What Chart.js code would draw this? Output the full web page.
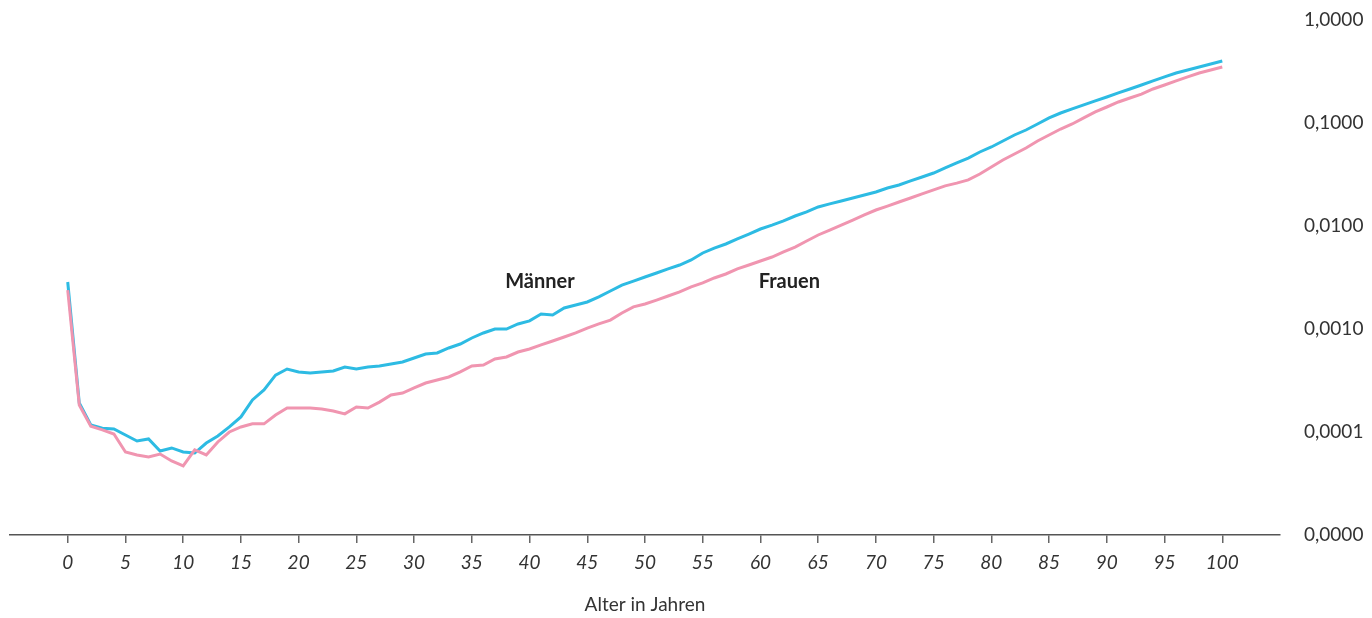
<!DOCTYPE html>
<html>
<head>
<meta charset="utf-8">
<script src="https://cdn.jsdelivr.net/npm/chart.js@4"></script>
<style>
  body { margin: 0; background: #fff; }
  #wrap { width: 1372px; height: 618px; position: relative; }
</style>
</head>
<body>
<div id="wrap"><canvas id="chart"></canvas></div>
<script>
// Alter 0..100
const ages = Array.from({ length: 101 }, (_, i) => i);

// Sterbewahrscheinlichkeit Männer
const maenner = [
  0.00286, 0.000191, 0.000117, 0.000109, 0.000107, 0.0000935, 0.0000818, 0.0000856, 0.0000654, 0.0000700,
  0.0000640, 0.0000625, 0.0000782, 0.0000914, 0.000112, 0.000140, 0.000205, 0.000256, 0.000357, 0.000409,
  0.000383, 0.000374, 0.000383, 0.000391, 0.000428, 0.000409, 0.000428, 0.000437, 0.000457, 0.000478,
  0.000523, 0.000572, 0.000585, 0.000654, 0.000715, 0.000818, 0.000915, 0.00100, 0.00100, 0.00112,
  0.00120, 0.00140, 0.00137, 0.00160, 0.00171, 0.00183, 0.00205, 0.00234, 0.00267, 0.00292,
  0.00320, 0.00350, 0.00383, 0.00418, 0.00468, 0.00547, 0.00611, 0.00669, 0.00748, 0.00836,
  0.00935, 0.0102, 0.0112, 0.0125, 0.0137, 0.0153, 0.0164, 0.0175, 0.0187, 0.0200,
  0.0214, 0.0234, 0.0250, 0.0274, 0.0299, 0.0327, 0.0366, 0.0409, 0.0457, 0.0523,
  0.0585, 0.0669, 0.0765, 0.0855, 0.0978, 0.112, 0.125, 0.137, 0.150, 0.164,
  0.179, 0.196, 0.214, 0.234, 0.256, 0.280, 0.306, 0.327, 0.350, 0.374,
  0.400
];

// Sterbewahrscheinlichkeit Frauen
const frauen = [
  0.00239, 0.000183, 0.000114, 0.000105, 0.0000957, 0.0000640, 0.0000598, 0.0000572, 0.0000611, 0.0000523,
  0.0000468, 0.0000669, 0.0000598, 0.0000800, 0.000100, 0.000112, 0.000120, 0.000120, 0.000146, 0.000171,
  0.000171, 0.000171, 0.000167, 0.000160, 0.000150, 0.000175, 0.000171, 0.000195, 0.000229, 0.000239,
  0.000268, 0.000299, 0.000320, 0.000342, 0.000383, 0.000437, 0.000447, 0.000512, 0.000535, 0.000598,
  0.000640, 0.000700, 0.000765, 0.000836, 0.000915, 0.00102, 0.00112, 0.00122, 0.00143, 0.00164,
  0.00175, 0.00191, 0.00209, 0.00229, 0.00256, 0.00280, 0.00313, 0.00342, 0.00383, 0.00418,
  0.00457, 0.00500, 0.00560, 0.00625, 0.00715, 0.00818, 0.00914, 0.0102, 0.0114, 0.0128,
  0.0143, 0.0156, 0.0171, 0.0187, 0.0205, 0.0224, 0.0245, 0.0261, 0.0280, 0.0320,
  0.0374, 0.0437, 0.0500, 0.0572, 0.0669, 0.0765, 0.0874, 0.0978, 0.112, 0.128,
  0.143, 0.160, 0.175, 0.191, 0.214, 0.234, 0.256, 0.280, 0.306, 0.327,
  0.350
];

const xTicks = [0, 5, 10, 15, 20, 25, 30, 35, 40, 45, 50, 55, 60, 65, 70, 75, 80, 85, 90, 95, 100];
const yTicks = [0.00001, 0.0001, 0.001, 0.01, 0.1, 1];

// Beschriftungen an den Linien
const lineLabels = [
  { text: "Männer", x: 40.9, y: 0.00286 },
  { text: "Frauen", x: 62.5, y: 0.00286 }
];

const labelPlugin = {
  id: "lineLabels",
  afterDatasetsDraw(chart) {
    const { ctx, scales } = chart;
    ctx.save();
    ctx.font = "bold 20px Lato";
    ctx.fillStyle = "#222";
    ctx.textAlign = "center";
    ctx.textBaseline = "middle";
    lineLabels.forEach(l => {
      ctx.fillText(l.text, scales.x.getPixelForValue(l.x), scales.y.getPixelForValue(l.y));
    });
    ctx.restore();
  }
};

new Chart(document.getElementById("chart"), {
  type: "line",
  data: {
    labels: ages,
    datasets: [
      {
        label: "Frauen",
        data: ages.map((a, i) => ({ x: a, y: frauen[i] })),
        borderColor: "#f095b0",
        borderWidth: 3,
        pointRadius: 0,
        tension: 0
      },
      {
        label: "Männer",
        data: ages.map((a, i) => ({ x: a, y: maenner[i] })),
        borderColor: "#2dbbe3",
        borderWidth: 3,
        pointRadius: 0,
        tension: 0
      }
    ]
  },
  options: {
    responsive: true,
    maintainAspectRatio: false,
    animation: false,
    layout: { padding: { left: 10, top: 20, right: 0, bottom: 0 } },
    plugins: { legend: { display: false }, tooltip: { enabled: false } },
    scales: {
      x: {
        type: "linear",
        min: -5,
        max: 105,
        afterBuildTicks: axis => { axis.ticks = xTicks.map(v => ({ value: v })); },
        afterFit: axis => { axis.height = 83; },
        grid: { drawOnChartArea: false, color: "#666", tickLength: 8, lineWidth: 1.5 },
        border: { color: "#555", width: 1.5 },
        ticks: {
          color: "#333",
          font: { family: "Lato", size: 19, style: "italic" },
          padding: 8,
          maxRotation: 0,
          autoSkip: false
        },
        title: {
          display: true,
          text: "Alter in Jahren",
          color: "#333",
          font: { family: "Lato", size: 19 },
          padding: { top: 0, bottom: 2 }
        }
      },
      y: {
        type: "logarithmic",
        position: "right",
        min: 0.00001,
        max: 1,
        afterBuildTicks: axis => { axis.ticks = yTicks.map(v => ({ value: v })); },
        afterFit: axis => {
          axis.width = 92;
          axis.paddingTop = 0;
          axis.paddingBottom = 0;
        },
        grid: { display: false },
        border: { display: false },
        ticks: {
          color: "#333",
          font: { family: "Lato", size: 19 },
          padding: 16,
          callback: v => v === 0.00001 ? "0,0000" : v.toFixed(4).replace(".", ",")
        }
      }
    }
  },
  plugins: [labelPlugin]
});
</script>
</body>
</html>
